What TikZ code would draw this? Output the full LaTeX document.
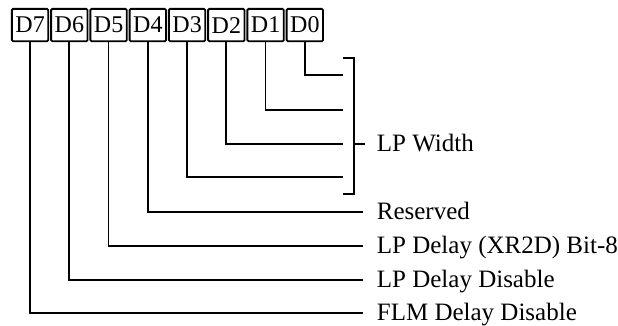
\documentclass[tikz,border=0pt]{standalone}
\usepackage{fontspec}
\setmainfont{Liberation Serif}
\usetikzlibrary{positioning}

\begin{document}
\begin{tikzpicture}[x=0.5pt, y=-0.5pt, line width=0.9pt]
  \useasboundingbox (0,0) rectangle (618,326);
  \tikzset{
    bitbox/.style={draw, rounded corners=0.6pt, anchor=north west,
      minimum width=18.2pt, minimum height=16.2pt, inner sep=0pt,
      font=\fontsize{12}{12}\selectfont},
    fieldlabel/.style={anchor=west, inner xsep=6.5pt, inner ysep=0pt,
      text height=8pt, text depth=0pt, font=\fontsize{12.5}{12.5}\selectfont}
  }

  % Register bits D7 ... D0
  \foreach \b in {0,...,7} {
    \node[bitbox] (d\b) at ({11+(7-\b)*39.25}, 8) {D\b};
  }

  % Field labels
  \node[fieldlabel, inner xsep=5.5pt] (lpw) at (365,144) {LP Width};
  \node[fieldlabel] (res)  at (363,212) {Reserved};
  \node[fieldlabel] (lpd8) at (363,246) {LP Delay (XR2D) Bit-8};
  \node[fieldlabel] (lpdd) at (363,280) {LP Delay Disable};
  \node[fieldlabel] (flm)  at (363,313) {FLM Delay Disable};

  % Bits 0-3 run into the bracket
  \foreach \b/\y in {0/75, 1/110, 2/144, 3/177} {
    \coordinate (w\b) at (343,\y);
    \draw (d\b.south) |- (w\b);
  }

  % Bracket for LP Width
  \coordinate (wtop) at (343,58);
  \coordinate (wbot) at (343,194);
  \coordinate (wmid) at (354,144);
  \draw (wtop) -- ++(11,0) |- (wbot);
  \draw (wmid) -- (lpw.west);

  % Single bits
  \draw (d4.south) |- (res.west);
  \draw (d5.south) |- (lpd8.west);
  \draw (d6.south) |- (lpdd.west);
  \draw (d7.south) |- (flm.west);

\end{tikzpicture}
\end{document}
